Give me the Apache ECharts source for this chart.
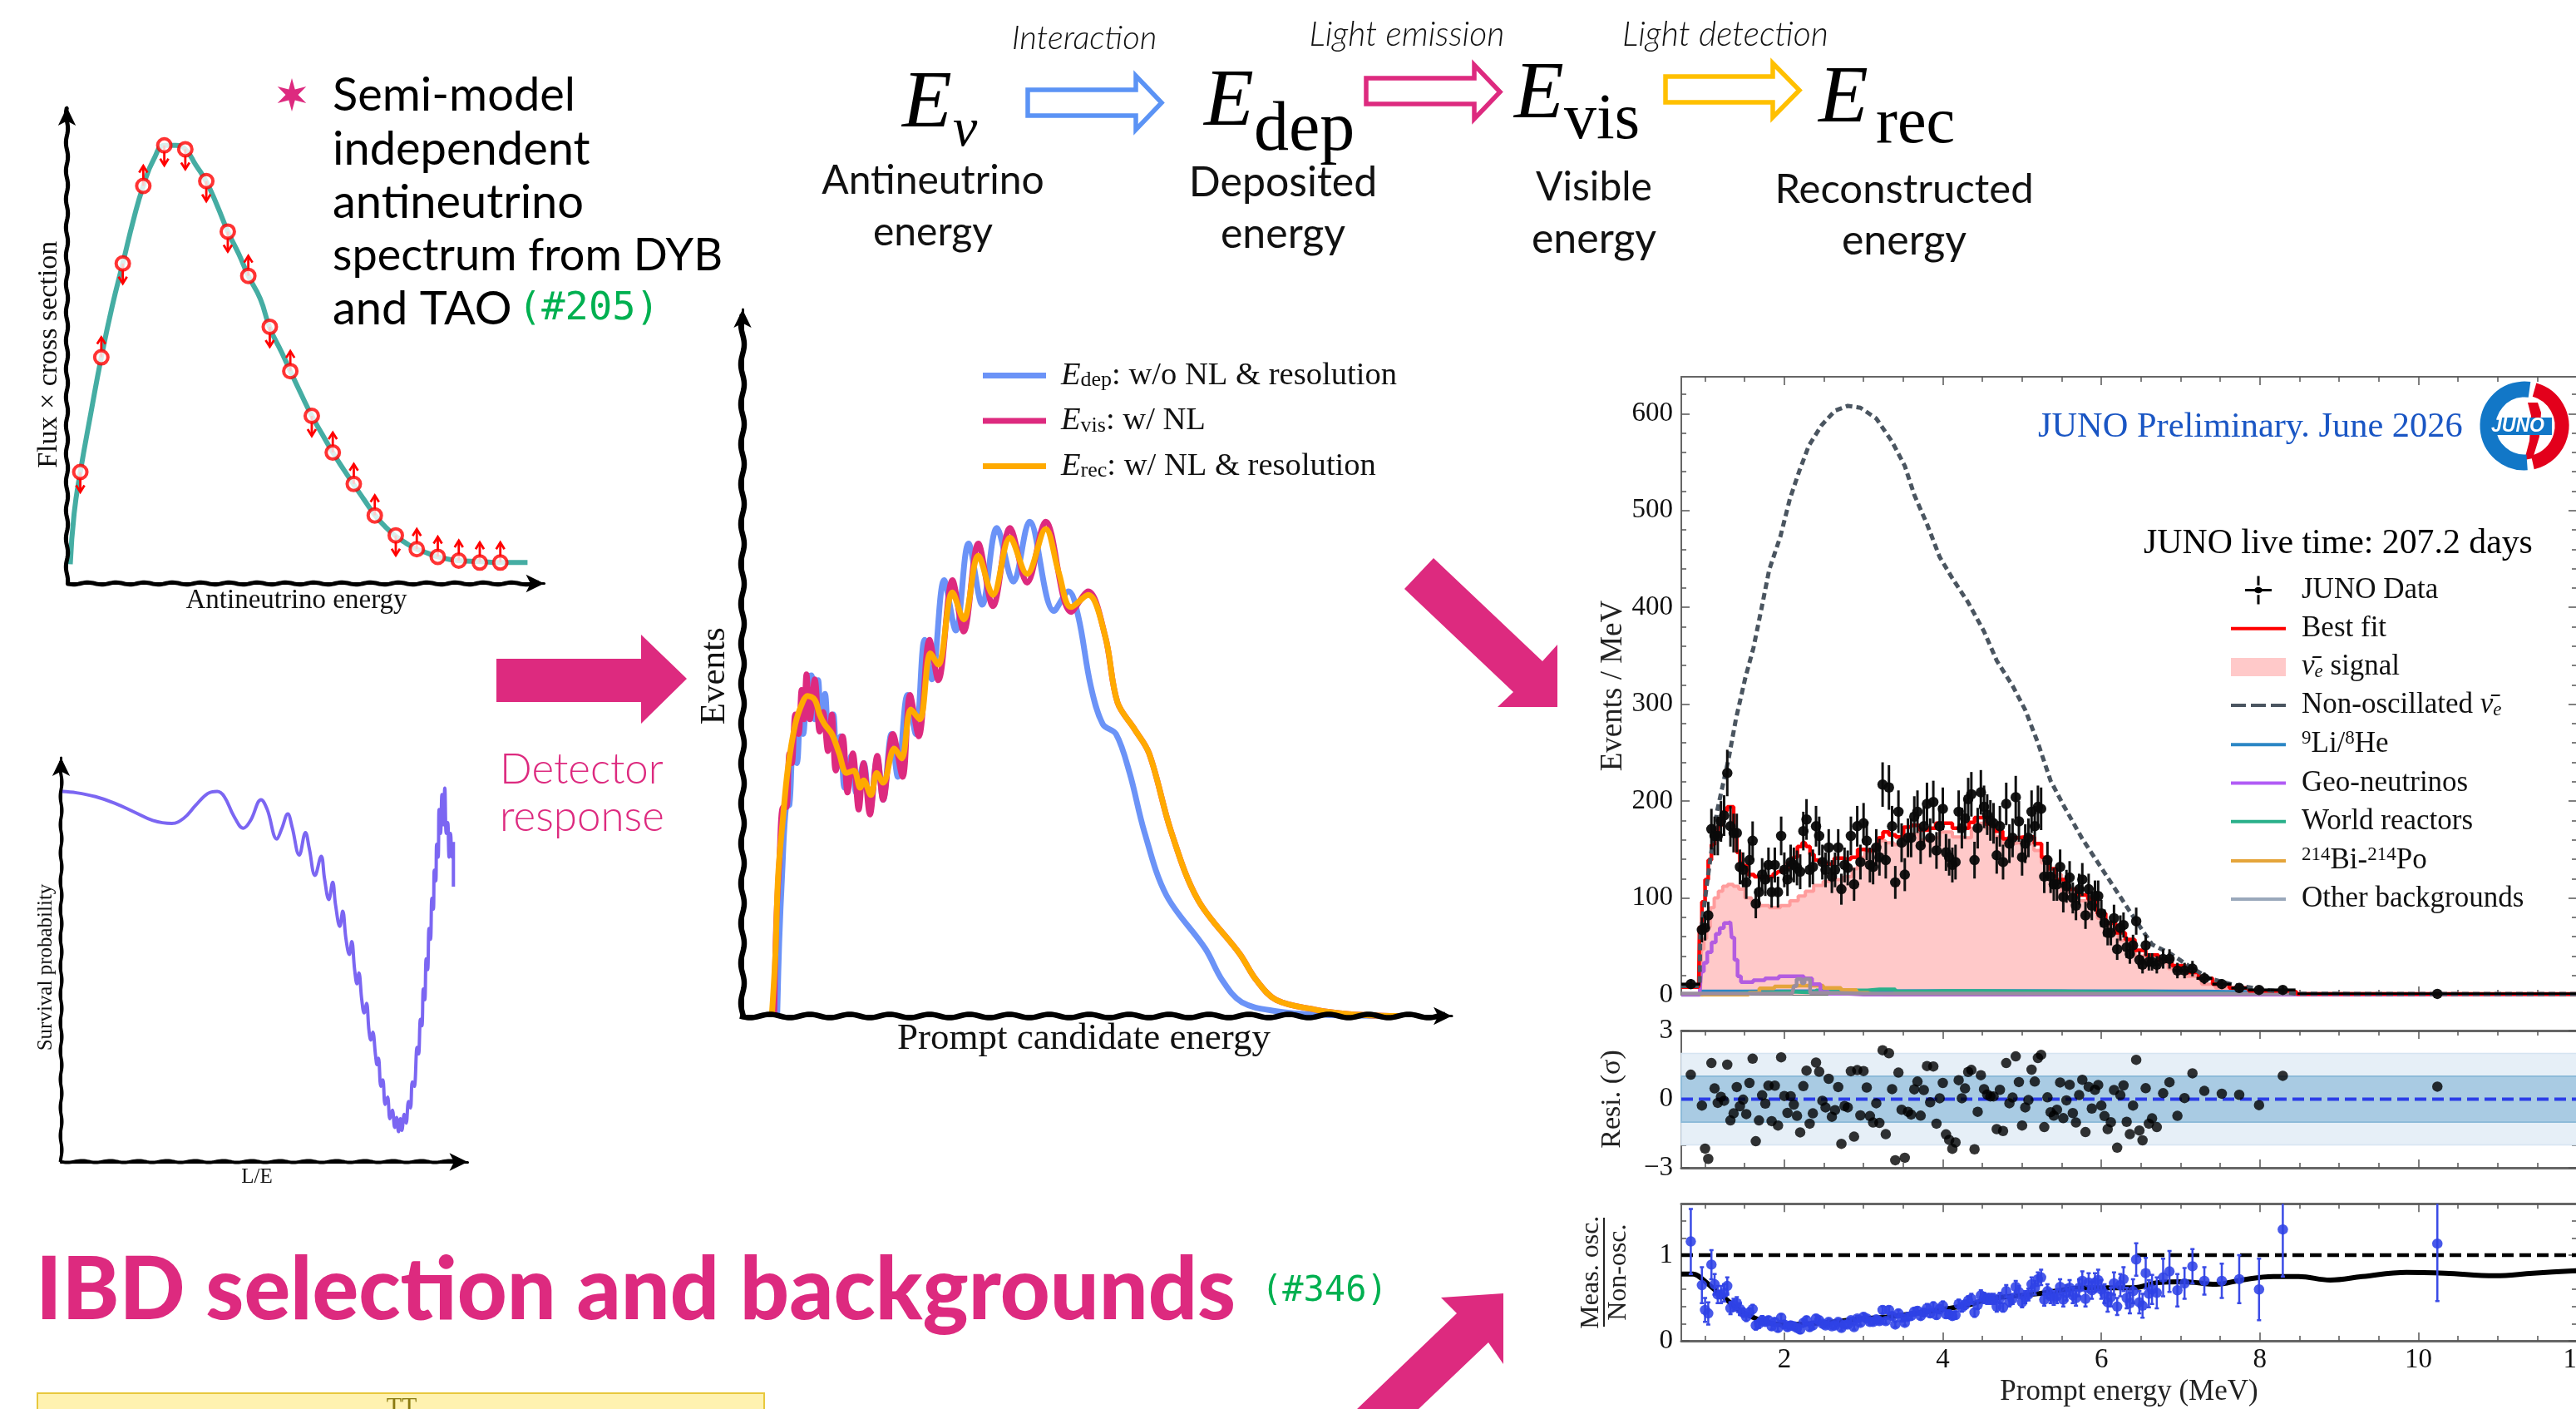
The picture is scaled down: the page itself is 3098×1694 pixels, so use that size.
<!DOCTYPE html>
<html><head><meta charset="utf-8">
<style>html,body{margin:0;padding:0;background:#fff}#c{width:3098px;height:1694px}</style>
<script src="https://cdn.jsdelivr.net/npm/echarts@6/dist/echarts.min.js"></script>
</head><body><div id="c"></div>
<script>
// ---------- panel A: flux x cross section (arbitrary units)
const fluxX=[0.7,1.5,2.8,5,7.2,9.5,11.7,14,16,18.2,20.5,22.8,24.8,27,29.2,31.5,33.7,36,38,40.5,42.5,45,46.8,49,51.3,53.5,55.7,58,60,62.2,64.5,66.7,68.8,71,73.3,75.5,77.7,82,86.5,90.8,96.5];
const fluxY=[4.06,14.6,23.4,35.7,47.5,58.3,67.2,76.6,83.5,89.1,92,92,91.2,87.9,84.4,79.3,73.9,69.2,64.6,59.8,53.7,48.5,44.6,39.9,35.2,31.3,27.5,23.9,20.9,17.7,14.4,11.9,10,8.5,7.2,6.4,5.6,4.8,4.6,4.4,4.4];
const nodeX=[2.8,7.2,11.7,16,20.4,24.8,29.2,33.7,38,42.5,46.8,51.3,55.7,60.1,64.5,68.9,73.3,77.7,82.1,86.5,90.8];
const nodeY=[23.4,47.5,67.2,83.5,92,91.2,84.5,73.9,64.6,53.9,44.6,35.2,27.5,20.9,14.3,10.1,7.2,5.6,4.8,4.4,4.4];
const nodeDir=[-1,1,-1,1,-1,-1,-1,-1,1,-1,1,-1,1,1,1,-1,1,1,1,1,1];
// ---------- panel B: survival probability (arbitrary units)
const survX=[2,32,72,112,152,192,232,257,282,307,327,342,362,382,397,419,432,452,462,475,484,499,512,520,532,545,552,561,569,575,584,590,597,604,609,615,620,624,630,635,640,645,649,653,659,662,665,670,674,679,684,689,694,699,703,707,711,714,719,723,728,732,736,740,746,749,753,756,759,762,765,768,771,774,777,780,782,785,787,790,792,795,798,801,804,807,810,813,816,819,822,822];
const survY=[857,854,845,830,810,790,783,795,825,852,857,845,800,772,790,838,815,747,770,805,775,710,762,725,663,707,655,607,647,595,545,580,515,480,510,445,412,437,375,345,367,305,282,300,245,225,240,175,190,133,150,100,120,80,103,70,100,73,110,90,140,125,185,175,265,250,330,315,400,375,470,445,540,515,610,585,675,650,735,705,815,760,850,780,865,760,785,705,760,705,740,637];
// ---------- panel C: prompt candidate energy (arbitrary units)
const edepX=[71,75,81,89,96,103,111,118,124,133,141,148,155,161,169,177,186,193,201,209,223,233,248,261,276,288,305,318,338,355,373,388,413,437,463,491,521,555,588,638,668,688,713,738,765,793,823,868,948,983,1023,1093,1173,1343];
const edepY=[0,148,288,428,433,533,518,613,578,693,698,608,688,588,660,548,618,508,573,468,533,458,518,423,528,443,578,490,658,578,771,690,893,790,968,843,1000,890,1013,830,870,818,678,598,578,498,378,248,138,73,28,10,3,0];
const evisX=[65,69,75,83,90,96,101,108,115,121,126,131,138,148,158,165,175,183,191,205,215,226,238,248,261,276,288,308,328,343,361,383,401,430,453,483,513,548,583,621,673,708,743,768,803,833,878,933,1018,1053,1093,1173,1243,1343];
const evisY=[0,188,308,428,428,538,518,618,578,668,608,700,608,690,583,623,543,618,503,573,458,538,423,518,413,533,443,578,490,658,573,771,688,893,788,968,840,1000,888,1013,828,870,778,643,588,538,378,238,128,73,33,13,4,0];
const erecX=[60,67,73,83,93,108,123,133,148,158,168,183,198,213,228,241,248,263,275,288,311,326,345,363,385,401,430,453,483,513,548,583,621,648,673,708,743,768,803,833,878,933,1018,1053,1093,1173,1243,1343];
const erecY=[0,118,288,408,508,598,643,656,648,618,598,578,538,498,503,468,483,453,498,478,548,528,628,608,743,720,868,813,943,863,980,906,998,908,838,863,778,643,588,538,378,238,128,73,33,13,4,0];
// ---------- main panel: JUNO data (Events/MeV)
const dataX=[0.82,0.96,1.00,1.04,1.08,1.12,1.16,1.20,1.24,1.28,1.32,1.36,1.40,1.44,1.48,1.52,1.56,1.60,1.64,1.68,1.72,1.76,1.80,1.84,1.88,1.92,1.96,2.00,2.04,2.08,2.12,2.16,2.20,2.24,2.28,2.32,2.36,2.40,2.44,2.48,2.52,2.56,2.60,2.64,2.68,2.72,2.76,2.80,2.84,2.88,2.92,2.96,3.00,3.04,3.08,3.12,3.16,3.20,3.24,3.28,3.32,3.36,3.40,3.44,3.48,3.52,3.56,3.60,3.64,3.68,3.72,3.76,3.80,3.84,3.88,3.92,3.96,4.00,4.04,4.08,4.12,4.16,4.20,4.24,4.28,4.32,4.36,4.40,4.44,4.48,4.52,4.56,4.60,4.64,4.68,4.72,4.76,4.80,4.84,4.88,4.92,4.96,5.00,5.04,5.08,5.12,5.16,5.20,5.24,5.28,5.32,5.36,5.40,5.44,5.48,5.52,5.56,5.60,5.64,5.68,5.72,5.76,5.80,5.84,5.88,5.92,5.96,6.00,6.04,6.08,6.12,6.16,6.20,6.24,6.28,6.32,6.36,6.40,6.44,6.48,6.52,6.56,6.60,6.64,6.70,6.78,6.86,6.96,7.05,7.15,7.30,7.52,7.74,7.99,8.29,10.24];
const dataY=[11,67,69,82,171,164,164,179,185,229,174,167,167,132,129,116,139,159,94,106,124,119,134,106,134,106,164,129,119,137,134,131,127,169,181,129,132,174,164,137,129,152,122,129,152,109,134,131,164,114,174,137,177,159,134,132,152,142,217,139,214,174,116,189,157,124,162,162,184,189,154,174,197,162,199,149,174,192,147,142,134,137,189,172,182,202,207,139,172,209,194,186,180,177,144,174,137,197,156,162,204,179,142,156,162,189,174,194,192,122,139,122,114,114,132,101,112,121,100,92,109,119,82,109,92,102,102,84,74,64,64,79,47,69,72,49,42,51,76,36,31,51,34,34,31,37,37,25,25,27,17,11,7,5,5,0.9];
const dataErr=[5,13,13,14,21,20,20,21,21,24,21,20,20,18,18,17,19,20,15,16,17,17,18,16,18,16,20,18,17,18,18,18,18,20,21,18,18,21,20,18,18,19,17,18,19,16,18,18,20,17,21,18,21,20,18,18,19,19,23,19,23,21,17,22,20,17,20,20,21,22,19,21,22,20,22,19,21,22,19,19,18,18,22,21,21,22,23,19,21,23,22,21,21,21,19,21,18,22,20,20,22,21,19,20,20,22,21,22,22,17,19,17,17,17,18,16,17,17,16,15,16,17,14,16,15,16,16,14,14,13,13,14,11,13,13,11,10,11,14,9,9,11,9,9,9,10,10,8,8,8,6,5,4,4,4,1];
const wideBinX=[0.82,6.70,6.78,6.86,6.96,7.05,7.15,7.30,7.52,7.74,7.99,8.29,10.24];
const wideBinHalf=[0.12,0.04,0.04,0.04,0.05,0.05,0.05,0.10,0.12,0.10,0.14,0.16,1.765];
const fitX=[0.70,0.92,0.94,0.98,1.02,1.06,1.10,1.14,1.18,1.22,1.26,1.30,1.34,1.38,1.42,1.46,1.50,1.58,1.66,1.74,1.82,1.90,1.94,2.00,2.08,2.14,2.19,2.26,2.30,2.35,2.40,2.47,2.58,2.68,2.79,2.89,2.96,3.07,3.17,3.21,3.28,3.36,3.45,3.56,3.64,3.77,3.87,3.95,4.05,4.19,4.29,4.37,4.43,4.48,4.60,4.71,4.80,4.885,5.03,5.11,5.20,5.29,5.375,5.48,5.62,5.76,5.90,6.00,6.11,6.25,6.355,6.49,6.63,6.81,6.97,7.16,7.30,7.51,7.72,8.00,8.28,8.46,8.48,12.2];
const fitY=[8,8,70,96,119,139,155,165,174,182,190,194,194,170,147,136,133,124,122,121,122,125,127,130,136,142,153,157,153,145,139,137,135,141,140,142,150,149,150,162,168,165,163,173,175,170,172,177,177,172,172,178,183,183,176,169,161,162,163,163,156,142,130,119,109,103,99,84,74,64,57,46,41,36,30,23,17,11,7,4,4,3,0.8,0.8];
const signalX=[0.70,0.94,0.97,1.00,1.04,1.09,1.14,1.195,1.25,1.32,1.39,1.46,1.545,1.63,1.74,1.88,2.02,2.12,2.23,2.30,2.44,2.54,2.68,2.82,2.89,2.96,3.07,3.17,3.24,3.31,3.45,3.56,3.63,3.77,3.87,4.05,4.19,4.29,4.43,4.48,4.60,4.71,4.815,4.955,5.10,5.20,5.29,5.41,5.585,5.76,5.90,6.00,6.11,6.32,6.53,6.74,6.95,7.16,7.37,7.51,7.72,8.00,8.30,8.50,12.2];
const signalY=[0,0,47,58,70,90,100,107,112,114,112,109,100,96,92,90,92,97,102,107,113,117,119,122,130,142,147,153,159,157,155,163,166,160,162,168,163,162,172,177,172,163,156,157,156,149,136,124,107,97,93,79,72,56,40,33,27,19,11,7,4,2,1,0,0];
const nonOscX=[0.70,0.93,0.94,1.03,1.15,1.30,1.39,1.51,1.61,1.71,1.81,1.95,2.07,2.19,2.31,2.47,2.64,2.80,2.96,3.16,3.36,3.52,3.64,3.80,3.96,4.12,4.32,4.52,4.68,4.88,5.04,5.20,5.36,5.52,5.76,5.96,6.20,6.44,6.64,6.88,7.12,7.36,7.68,8.08,8.49,12.2];
const nonOscY=[9,9,60,118.6,189,245,285,328,358,398,439,473,512,541,567,588,603,608,606,595,571,546,516,486,452,430,405,375,345,319,294,260,221,196,161,136,106,76,52,42,29,17,10,5,1,0.8];
const liX=[0.70,0.93,0.94,2,4,6,7,7.6,8,8.5,9,12.2];
const liY=[0,0,3.5,3.6,3.8,3.7,3.4,3,2,0.5,0.3,0.2];
const geoX=[0.70,0.93,0.97,1.00,1.055,1.11,1.16,1.21,1.265,1.32,1.35,1.39,1.43,1.475,1.545,1.67,1.84,2.02,2.19,2.30,2.40,2.51,2.61,3.00,12.2];
const geoY=[0,0,24,33,44,54,63,69,74,75,59,36,19,13,13,15,17,19,19,17,11,3,1,0.3,0.2];
const reactorX=[0.70,0.93,1.0,1.5,2.0,2.3,2.5,2.9,3.2,3.6,4,5,6,7,8,12.2];
const reactorY=[0,0,0.5,2,3,2.5,4.5,4.5,5.5,3.5,3.8,3.5,2.5,1.2,0.3,0.1];
const bipoX=[0.70,1.5,1.6,1.77,1.98,2.19,2.37,2.61,2.82,3.0,3.1,3.3,12.2];
const bipoY=[0,0,2,6.6,8.6,9.4,9.4,7,5,2,0.3,0,0];
const otherX=[0.70,2.10,2.14,2.17,2.20,2.24,2.27,2.31,2.34,3,6,12.2];
const otherY=[1.3,1.5,9,16,16,12,16,16,2,1.3,1,0.3];
// ---------- residual panel (sigma)
const residY=[1.07,-0.28,-2.16,-2.61,1.58,0.47,-0.16,0.10,-0.07,1.51,-0.93,-0.62,0.53,-0.31,-0.02,-0.65,0.71,1.77,-1.84,-0.93,0.17,-0.19,0.59,-0.96,0.59,-1.15,1.83,0.14,-0.60,0.13,-0.24,-0.73,-1.45,0.57,1.25,-1.07,-0.62,1.60,1.20,-0.07,-0.36,0.89,-0.77,-0.48,0.53,-1.95,-0.30,-0.36,1.22,-1.64,1.27,-0.71,1.23,0.51,-0.74,-1.02,-0.18,-1.04,2.14,-1.53,2.01,0.44,-2.67,1.16,-0.46,-2.56,-0.55,-0.67,0.43,0.77,-0.72,0.40,1.45,-0.14,1.43,-1.07,0.04,0.71,-1.54,-1.78,-2.17,-1.89,0.83,0.04,0.47,1.19,1.28,-2.19,-0.55,1.05,0.44,0.20,0.12,0.12,-1.31,0.41,-1.39,1.58,-0.18,0.07,1.87,0.75,-1.15,-0.36,-0.04,1.29,0.77,1.80,1.94,-1.22,0.08,-0.57,-0.72,-0.46,0.73,-0.83,-0.05,0.63,-0.61,-1.02,0.18,0.85,-1.44,0.54,-0.41,0.41,0.62,-0.28,-0.74,-1.31,-1.01,0.40,-2.12,0.18,0.60,-0.99,-1.53,-0.28,1.72,-1.37,-1.80,0.48,-1.07,-0.84,-1.22,0.26,0.74,-0.73,0.05,1.13,0.36,0.24,0.19,-0.26,1.02,0.55];
// ---------- ratio panel
const ratioY=[1.16,.65,.36,.32,.89,.66,.54,.54,.56,.64,.38,.42,.44,.37,.33,.28,.33,.37,.18,.20,.24,.22,.24,.17,.22,.15,.27,.19,.16,.18,.17,.15,.13,.21,.24,.16,.18,.26,.24,.20,.18,.22,.17,.18,.22,.15,.19,.19,.24,.16,.26,.21,.28,.26,.22,.22,.25,.23,.36,.23,.36,.29,.19,.32,.27,.21,.28,.29,.34,.35,.29,.33,.38,.32,.40,.30,.37,.41,.31,.31,.29,.30,.43,.39,.42,.47,.49,.33,.42,.53,.50,.49,.49,.49,.40,.50,.39,.58,.46,.49,.63,.57,.45,.51,.54,.66,.62,.72,.74,.48,.58,.52,.50,.52,.63,.48,.56,.62,.53,.50,.62,.70,.49,.68,.59,.68,.71,.60,.55,.45,.51,.67,.40,.65,.72,.50,.44,.58,.95,.45,.41,.79,.55,.60,.56,.74,.81,.59,.67,.87,.70,.70,.72,.60,1.30,1.135];
const ratioErr=[.38,.21,.14,.13,.17,.12,.10,.10,.10,.10,.07,.07,.07,.07,.05,.05,.05,.05,.05,.05,.05,.04,.04,.04,.04,.04,.04,.04,.04,.04,.04,.04,.04,.04,.04,.04,.04,.04,.04,.03,.03,.03,.03,.03,.03,.03,.03,.03,.03,.03,.03,.03,.04,.03,.03,.03,.03,.03,.04,.03,.04,.04,.03,.04,.04,.03,.04,.04,.04,.04,.04,.04,.05,.04,.05,.04,.05,.05,.04,.04,.04,.04,.05,.05,.05,.05,.06,.05,.05,.06,.06,.06,.06,.06,.06,.06,.05,.07,.06,.06,.07,.07,.06,.07,.07,.08,.08,.08,.09,.07,.08,.08,.08,.08,.09,.08,.09,.09,.09,.09,.10,.11,.09,.11,.10,.11,.12,.11,.11,.11,.11,.13,.10,.13,.14,.12,.12,.14,.19,.13,.14,.18,.16,.17,.18,.22,.24,.19,.18,.20,.16,.20,.28,.36,.55,.67];
const ratioCurveX=[0.70,0.85,0.91,1.08,1.26,1.43,1.64,1.8,2.0,2.48,3.0,3.32,4.09,4.37,4.58,5.2,5.8,6.09,6.4,6.72,7.04,7.45,7.77,8.17,8.49,8.89,9.29,9.85,10.33,10.97,11.45,12.2];
const ratioCurveY=[.78,.78,.76,.63,.49,.36,.26,.21,.19,.21,.26,.28,.38,.43,.49,.55,.62,.62,.62,.68,.69,.66,.71,.75,.75,.71,.75,.80,.79,.76,.79,.83];
// ---------- tick labels
const majorX=[2,4,6,8,10,12];
const minorX=[1,1.5,2.5,3,3.5,4.5,5,5.5,6.5,7,7.5,8.5,9,9.5,10.5,11,11.5];
const mainMajorY=[0,100,200,300,400,500,600];
const mainMinorY=[20,40,60,80,120,140,160,180,220,240,260,280,320,340,360,380,420,440,460,480,520,540,560,580,620];
const residMajorY=[-3,0,3];
const residMinorY=[-2,-1,1,2];
const ratioMajorY=[0,1];
const ratioMinorY=[0.2,0.4,0.6,0.8,1.2,1.4];

const zip=(a,b)=>a.map((v,i)=>[v,b[i]]);
const SERIF='"Liberation Serif"', SANS='Lato', MONO='"DejaVu Sans Mono"';
const PINK='#dd2a7f', GREEN='#00b050';

// -------- wavy hand drawn axis decorations
function wavy(x0,y0,x1,y1,amp,per,lw){
  const pts=[],L=Math.hypot(x1-x0,y1-y0),ux=(x1-x0)/L,uy=(y1-y0)/L;
  for(let s=0;s<=L;s+=2){const o=amp*Math.sin(s/per*2*Math.PI);pts.push([x0+ux*s-uy*o,y0+uy*s+ux*o]);}
  return {type:'polyline',z:20,silent:true,shape:{points:pts},style:{stroke:'#000',fill:'none',lineWidth:lw}};
}
function T(text,x,y,font,fill,align,rot){
  return {type:'text',x,y,rotation:rot||0,z:30,silent:true,style:{text,font,fill:fill||'#000',textAlign:align||'left',textVerticalAlign:'middle'}};
}
function P(points,fill,stroke,lw){return {type:'polygon',z:25,silent:true,shape:{points},style:{fill,stroke:stroke||null,lineWidth:lw||0}};}
function hollow(x0,x1,xh,s0,s1,h0,h1,c){
  return P([[x0,s0],[xh,s0],[xh,h0],[x1,(h0+h1)/2],[xh,h1],[xh,s1],[x0,s1]],'#fff',c,5.5);
}
const star=[];for(let i=0;i<12;i++){const r=i%2?7.5:20,a=-Math.PI/2+i*Math.PI/6;star.push([351+r*Math.cos(a),114+r*Math.sin(a)]);}
const ink='#111';
const graphics=[
  T('Semi-model',400,115,'400 56px '+SANS),
  T('independent',400,180,'400 56px '+SANS),
  T('antineutrino',400,244,'400 56px '+SANS),
  T('spectrum from DYB',400,308,'400 54px '+SANS),
  T('and TAO',400,372,'400 56px '+SANS),
  T('(#205)',623,372,'400 47px '+MONO,GREEN),
  P(star,PINK),
  T('E',1085,126,'italic 98px '+SERIF),T('ν',1146,158,'italic 66px '+SERIF),
  T('E',1448,124,'italic 98px '+SERIF),T('dep',1508,158,'84px '+SERIF),
  T('E',1821,115,'italic 98px '+SERIF),T('vis',1881,146,'78px '+SERIF),
  T('E',2187,120,'italic 98px '+SERIF),T('rec',2256,151,'78px '+SERIF),
  T('Antineutrino',1122,218,'48px '+SANS,ink,'center'),T('energy',1122,280,'48px '+SANS,ink,'center'),
  T('Deposited',1543,220,'50px '+SANS,ink,'center'),T('energy',1543,282,'50px '+SANS,ink,'center'),
  T('Visible',1917,226,'48px '+SANS,ink,'center'),T('energy',1917,288,'50px '+SANS,ink,'center'),
  T('Reconstructed',2290,228,'49px '+SANS,ink,'center'),T('energy',2290,290,'50px '+SANS,ink,'center'),
  T('Interaction',1304,46,'italic 300 40px '+SANS,'#111','center'),
  T('Light emission',1692,42,'italic 300 41px '+SANS,'#111','center'),
  T('Light detection',2075,42,'italic 300 41px '+SANS,'#111','center'),
  hollow(1236,1397,1366,108,139,91,156,'#5b93f5'),
  hollow(1643,1804,1773,94,125,78,143,PINK),
  hollow(2003,2164,2132,92,123,76,141,'#ffc000'),
  P([[597,792],[771,792],[771,763],[826,816],[771,870],[771,844],[597,844]],PINK),
  P([[1724,671],[1689,708],[1820,832],[1801,850],[1873,850],[1873,775],[1855,795]],PINK),
  P([[1632,1694],[1706,1694],[1790,1614],[1808,1640],[1808,1555],[1733,1560],[1752,1579]],PINK),
  T('Detector',601,926,'300 51px '+SANS,PINK),T('response',601,983,'300 51px '+SANS,PINK),
  T('IBD selection and backgrounds',43,1552,'900 104px '+SANS,PINK),
  T('(#346)',1517,1553,'400 42px '+MONO,GREEN),
  {type:'rect',z:24,silent:true,shape:{x:45,y:1675,width:874,height:40},style:{fill:'#fff2b0',stroke:'#e8c83c',lineWidth:2}},
  T('TT',483,1692,'30px '+SERIF,'#8a7a10','center'),
  wavy(80.5,129,80.5,702,1.2,34,5),wavy(80,701.5,648,701.5,1.2,34,5),
  wavy(73.5,915,73.5,1397,1,34,4),wavy(73,1396.5,556,1396.5,1,34,4),
  wavy(893,378,893,1222,2,48,6.5),wavy(890,1221.5,1738,1221.5,2,48,6.5),
  T('JUNO Preliminary. June 2026',2451,514,'42.4px '+SERIF,'#1a56c4'),
  T('JUNO live time: 207.2 days',2578,654,'41.8px '+SERIF),
  {type:'line',z:30,silent:true,shape:{x1:1929,y1:1464,x2:1929,y2:1595},style:{stroke:'#222',lineWidth:2}},
  {type:'arc',z:28,silent:true,shape:{cx:3036,cy:512,r:44,startAngle:1.5,endAngle:4.85},style:{stroke:'#1277c7',lineWidth:19,fill:'none',lineCap:'butt'}},
  {type:'arc',z:28,silent:true,shape:{cx:3036,cy:512,r:45,startAngle:-1.3,endAngle:1.35},style:{stroke:'#e3001b',lineWidth:17,fill:'none',lineCap:'butt'}},
  P([[3040,484],[3052,484],[3056,496],[3054,525],[3046,551],[3036,553],[3042,530],[3044,500]],'#e3001b'),
  {type:'rect',z:29,silent:true,shape:{x:2991,y:502,width:78,height:21},style:{fill:'#1277c7'}},
  T('JUNO',2996,513,'italic bold 23px "Liberation Sans"','#fff')
];

// -------- axes
const frame='#666';
function simpleAxis(gi,name,nameGap,fs,min,max,pad){
  return {type:'value',gridIndex:gi,min,max,name,nameLocation:'middle',nameGap,
    nameTextStyle:{fontFamily:SERIF,fontSize:fs,color:'#111',padding:pad||0},
    axisLine:{show:true,onZero:false,symbol:['none','arrow'],symbolSize:[16,22],lineStyle:{color:'#000',width:3}},
    axisTick:{show:false},axisLabel:{show:false},splitLine:{show:false}};
}
const xAxes=[simpleAxis(0,'Antineutrino energy',4,33,0,100,[0,22,0,0]),simpleAxis(1,'L/E',6,25,0,852,[0,18,0,0]),simpleAxis(2,'Prompt candidate energy',5,45,0,1453,[0,32,0,0])];
const yAxes=[simpleAxis(0,'Flux × cross section',4,34,0,100,[0,22,0,0]),simpleAxis(1,'Survival probability',6,25,0,935,[0,18,0,0]),simpleAxis(2,'Events',12,43,0,1448,[0,32,0,0])];

function tickAxis(kind,gi,pos,vals,len,opts){
  opts=opts||{};
  const a={type:'value',gridIndex:gi,position:pos,min:opts.min,max:opts.max,
    axisLine:{show:!!opts.line,onZero:false,lineStyle:{color:frame,width:opts.lw||2}},
    axisTick:{show:true,inside:true,length:len,customValues:vals,lineStyle:{color:'#555',width:1.5}},
    splitLine:{show:false},
    axisLabel:opts.labels?{show:true,customValues:vals,fontFamily:SERIF,fontSize:33,color:'#111',margin:opts.margin||10,hideOverlap:false,formatter:v=>String(v).replace('-','−')}:{show:false}};
  if(opts.name){a.name=opts.name;a.nameLocation='middle';a.nameGap=opts.gap;a.nameTextStyle={fontFamily:SERIF,fontSize:opts.nfs||33,color:'#222',lineHeight:opts.nlh,padding:opts.npad||0};}
  return a;
}
function addPanel(gi,ymin,ymax,majY,minY,opts){
  const X={min:0.7,max:12};
  xAxes.push(tickAxis('x',gi,'bottom',majorX,10,{...X,line:true,lw:opts.lw,labels:opts.xLabels,margin:7,name:opts.xName,gap:44,nfs:35}));
  xAxes.push(tickAxis('x',gi,'top',majorX,10,{...X,line:true,lw:opts.lw}));
  xAxes.push(tickAxis('x',gi,'bottom',minorX,6,{...X}));
  xAxes.push(tickAxis('x',gi,'top',minorX,6,{...X}));
  const Y={min:ymin,max:ymax};
  yAxes.push(tickAxis('y',gi,'left',majY,10,{...Y,line:true,labels:true,name:opts.yName,gap:opts.yGap,nfs:opts.yFs,nlh:opts.yLh}));
  yAxes.push(tickAxis('y',gi,'right',majY,10,{...Y,line:true}));
  yAxes.push(tickAxis('y',gi,'left',minY,6,{...Y}));
  yAxes.push(tickAxis('y',gi,'right',minY,6,{...Y}));
}
addPanel(3,0,638,mainMajorY,mainMinorY,{yName:'Events / MeV',yGap:60,yFs:37});
addPanel(4,-3,3,residMajorY,residMinorY,{lw:3,yName:'Resi. (σ)',yGap:66,yFs:34});
addPanel(5,0,1.6,ratioMajorY,ratioMinorY,{lw:3,xLabels:true,xName:'Prompt energy (MeV)',yName:'Meas. osc.\nNon-osc.',yGap:59,yFs:32,yLh:33});
const MAIN={xAxisIndex:3,yAxisIndex:3},RES={xAxisIndex:7,yAxisIndex:7},RAT={xAxisIndex:11,yAxisIndex:11};

// -------- custom renderers
function vErr(color,cap,lw){return (p,api)=>{
  const x=api.value(0),y=api.value(1),e=api.value(2),a=api.coord([x,y-e]),b=api.coord([x,y+e]),s={stroke:color,lineWidth:lw};
  const ch=[{type:'line',shape:{x1:a[0],y1:a[1],x2:b[0],y2:b[1]},style:s}];
  if(cap){ch.push({type:'line',shape:{x1:a[0]-cap,y1:a[1],x2:a[0]+cap,y2:a[1]},style:s},{type:'line',shape:{x1:b[0]-cap,y1:b[1],x2:b[0]+cap,y2:b[1]},style:s});}
  return {type:'group',children:ch};
};}
function hErr(color,lw){return (p,api)=>{
  const x=api.value(0),y=api.value(1),e=api.value(2),a=api.coord([x-e,y]),b=api.coord([x+e,y]);
  return {type:'line',shape:{x1:a[0],y1:a[1],x2:b[0],y2:b[1]},style:{stroke:color,lineWidth:lw}};
};}
function arrows(p,api){
  const x=api.value(0),y=api.value(1),d=api.value(2),a=api.coord([x,y]),b=api.coord([x,y+d*4.2]);
  const dir=b[1]<a[1]?1:-1,s={stroke:'#f00',lineWidth:2.8,fill:'none'};
  return {type:'group',children:[
    {type:'line',shape:{x1:a[0],y1:a[1],x2:b[0],y2:b[1]},style:s},
    {type:'polyline',shape:{points:[[b[0]-5,b[1]+dir*8],[b[0],b[1]],[b[0]+5,b[1]+dir*8]]},style:s}
  ]};
}
const zero3=(a,b,c)=>a.map((v,i)=>[v,b[i],c[i]]);
const wideBins=wideBinX.map((x,i)=>[x,dataY[dataX.indexOf(x)],wideBinHalf[i]]);
const step=(name,xs,ys,color,z,lw,extra)=>Object.assign({type:'line',name,...MAIN,data:zip(xs,ys),step:'middle',symbol:'none',z,silent:true,lineStyle:{color,width:lw||4.5}},extra||{});
const N={nue:'ν̄e signal',non:'Non-oscillated ν̄e',li:'9Li/8He',geo:'Geo-neutrinos',wr:'World reactors',bi:'214Bi-214Po',ot:'Other backgrounds'};

const series=[
  {type:'line',name:'Flux × cross section',xAxisIndex:0,yAxisIndex:0,data:zip(fluxX,fluxY),smooth:true,symbol:'none',lineStyle:{color:'#45ada3',width:6},z:3},
  {type:'custom',name:'shift',xAxisIndex:0,yAxisIndex:0,data:zero3(nodeX,nodeY,nodeDir),renderItem:arrows,z:4,silent:true,encode:{x:0,y:1}},
  {type:'scatter',name:'nodes',xAxisIndex:0,yAxisIndex:0,data:zip(nodeX,nodeY),symbol:'circle',symbolSize:16,itemStyle:{color:'#fff',borderColor:'#f00',borderWidth:4},z:5},
  {type:'line',name:'Survival probability',xAxisIndex:1,yAxisIndex:1,data:zip(survX,survY),smooth:0.4,symbol:'none',lineStyle:{color:'#7b66f2',width:4},z:3},
  {type:'line',name:'Edep',xAxisIndex:2,yAxisIndex:2,data:zip(edepX,edepY),smooth:0.35,symbol:'none',lineStyle:{color:'#6b93f7',width:7},z:3},
  {type:'line',name:'Evis',xAxisIndex:2,yAxisIndex:2,data:zip(evisX,evisY),smooth:0.35,symbol:'none',lineStyle:{color:'#dd2a7f',width:7},z:4},
  {type:'line',name:'Erec',xAxisIndex:2,yAxisIndex:2,data:zip(erecX,erecY),smooth:0.35,symbol:'none',lineStyle:{color:'#ffaa00',width:7},z:5},
  step(N.nue,signalX,signalY,'#ff9c9c',2,4,{areaStyle:{color:'#ffc9c9',opacity:1}}),
  step(N.li,liX,liY,'#2b86c5',3),
  step(N.wr,reactorX,reactorY,'#2ab08a',4),
  step(N.bi,bipoX,bipoY,'#e5a53b',5),
  step(N.geo,geoX,geoY,'#b35ce0',6),
  step(N.ot,otherX,otherY,'#9a8d9f',7),
  step('Best fit',fitX,fitY,'#ff0000',8,4.5),
  {type:'line',name:N.non,...MAIN,data:zip(nonOscX,nonOscY),symbol:'none',z:9,silent:true,lineStyle:{color:'#4a5560',width:5,type:[8,5]}},
  {type:'custom',name:'data x bins',...MAIN,data:wideBins,renderItem:hErr('#000',3.5),z:10,silent:true,clip:true,encode:{x:0,y:1}},
  {type:'custom',name:'data err',...MAIN,data:zero3(dataX,dataY,dataErr),renderItem:vErr('#111',0,3),z:10,silent:true,clip:true,encode:{x:0,y:1}},
  {type:'scatter',name:'JUNO Data',...MAIN,data:zip(dataX,dataY),symbol:'circle',symbolSize:12.5,itemStyle:{color:'#0a0a0a',opacity:.95},z:11},
  {type:'line',name:'zero',...RES,data:[[0.7,0],[12,0]],symbol:'none',z:3,silent:true,lineStyle:{color:'#2b3ce8',width:4,type:[14,7]},
    markArea:{silent:true,z:1,data:[
      [{yAxis:-2,itemStyle:{color:'#e6eff7',borderColor:'#d6e4f1',borderWidth:1.5}},{yAxis:2}],
      [{yAxis:-1,itemStyle:{color:'#a9cbe3',borderColor:'#8ebbd9',borderWidth:2}},{yAxis:1}]
    ]}},
  {type:'scatter',name:'resid',...RES,data:zip(dataX,residY),symbol:'circle',symbolSize:12.5,itemStyle:{color:'#000'},z:5},
  {type:'line',name:'fit ratio',...RAT,data:zip(ratioCurveX,ratioCurveY),smooth:0.4,symbol:'none',z:3,silent:true,lineStyle:{color:'#000',width:6}},
  {type:'line',name:'unity',...RAT,data:[[0.7,1],[12,1]],symbol:'none',z:3,silent:true,lineStyle:{color:'#000',width:4.5,type:[14,7]}},
  {type:'custom',name:'ratio err',...RAT,data:zero3(dataX,ratioY,ratioErr),renderItem:vErr('#3a4be6',2.5,2.5),z:4,silent:true,clip:true,encode:{x:0,y:1}},
  {type:'scatter',name:'ratio',...RAT,data:zip(dataX,ratioY),symbol:'circle',symbolSize:12.5,itemStyle:{color:'#2f42e6',opacity:.88},z:5}
];

const lgRich={
  n:{fontFamily:SERIF,fontSize:35,color:'#111'},
  i:{fontFamily:SERIF,fontSize:35,fontStyle:'italic',color:'#111'},
  sb:{fontFamily:SERIF,fontSize:23,fontStyle:'italic',color:'#111',padding:[12,0,0,0]},
  sp:{fontFamily:SERIF,fontSize:23,color:'#111',padding:[0,0,14,0]}
};
const lgMap={'JUNO Data':'{n|JUNO Data}','Best fit':'{n|Best fit}',
  [N.nue]:'{i|ν̄}{sb|e}{n| signal}',[N.non]:'{n|Non-oscillated }{i|ν̄}{sb|e}',
  [N.li]:'{sp|9}{n|Li/}{sp|8}{n|He}',[N.geo]:'{n|Geo-neutrinos}',[N.wr]:'{n|World reactors}',
  [N.bi]:'{sp|214}{n|Bi-}{sp|214}{n|Po}',[N.ot]:'{n|Other backgrounds}'};
const cRich={
  i:{fontFamily:SERIF,fontSize:38.6,fontStyle:'italic',color:'#111'},
  sb:{fontFamily:SERIF,fontSize:26,color:'#111',padding:[12,0,0,0]},
  n:{fontFamily:SERIF,fontSize:38.6,color:'#111'}
};
const cMap={Edep:'{i|E}{sb|dep}{n|: w/o NL & resolution}',Evis:'{i|E}{sb|vis}{n|: w/ NL}',Erec:'{i|E}{sb|rec}{n|: w/ NL & resolution}'};
const keep='M0 0h0v0zM0 34h0v0z';
const rectIcon='path://'+keep+'M0 6H66V28H0Z';
const lineIcon='path://'+keep+'M0 15H66V19H0Z';
const dashIcon='path://'+keep+'M0 15H18V19H0ZM24 15H42V19H24ZM48 15H66V19H48Z';
const dataIcon='path://M0 15.5H11.5A5.5 5.5 0 0 1 20.5 15.5H32V18.5H20.5A5.5 5.5 0 0 1 11.5 18.5H0ZM14.5 0H17.5V11.2H14.5ZM14.5 22.8H17.5V34H14.5Z';
const cLine='path://M0 0h0v0zM0 30h0v0zM0 11.5H76V18.5H0Z';
const lg=(name,icon,color)=>({name,icon,itemStyle:{color,borderWidth:0,opacity:1},lineStyle:{width:0,opacity:0}});

const NOBOUNDS={outerBoundsMode:'none'};
const option={
  animation:false,backgroundColor:'#fff',
  grid:[
    {left:80.5,top:129,width:574,height:572.5,...NOBOUNDS},
    {left:73.5,top:911,width:489,height:486,...NOBOUNDS},
    {left:893,top:372,width:853,height:849.5,...NOBOUNDS},
    {left:2022,top:453,width:1077,height:743,...NOBOUNDS},
    {left:2022,top:1239,width:1077,height:165,...NOBOUNDS},
    {left:2022,top:1447.3,width:1077,height:164.7,...NOBOUNDS}
  ],
  xAxis:xAxes,yAxis:yAxes,series,graphic:graphics,
  legend:[
    {left:2678,top:687,orient:'vertical',itemWidth:66,itemHeight:34,itemGap:11.2,selectedMode:false,
     data:[lg('JUNO Data',dataIcon,'#000'),lg('Best fit',lineIcon,'#ff0000'),lg(N.nue,rectIcon,'#ffc9c9'),lg(N.non,dashIcon,'#4a5560'),lg(N.li,lineIcon,'#2b86c5'),lg(N.geo,lineIcon,'#b15cf5'),lg(N.wr,lineIcon,'#2ab08a'),lg(N.bi,lineIcon,'#e5a53b'),lg(N.ot,lineIcon,'#9aa8bb')],
     formatter:n=>lgMap[n],textStyle:{rich:lgRich,padding:[0,0,0,14]}},
    {left:1177,top:427,orient:'vertical',itemWidth:76,itemHeight:30,itemGap:15.5,selectedMode:false,
     data:[lg('Edep',cLine,'#6b93f7'),lg('Evis',cLine,'#dd2a7f'),lg('Erec',cLine,'#ffaa00')],formatter:n=>cMap[n],textStyle:{rich:cRich,padding:[0,0,0,13]}}
  ]
};
const chart=echarts.init(document.getElementById('c'),null,{renderer:'canvas',width:3098,height:1694});
chart.setOption(option);
</script></body></html>
